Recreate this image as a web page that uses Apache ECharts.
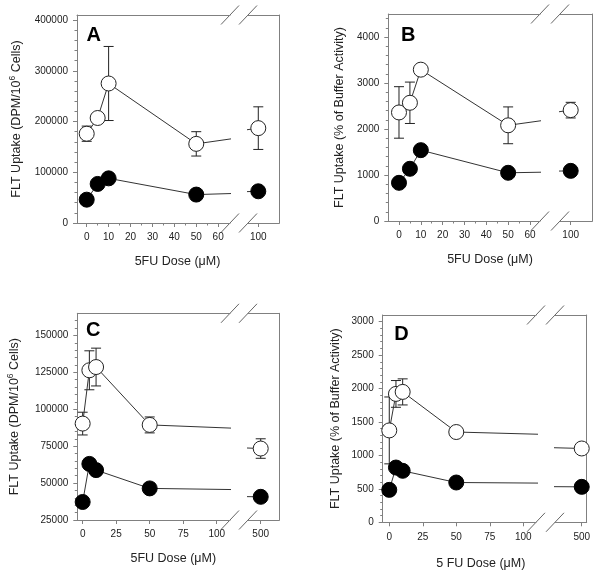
<!DOCTYPE html>
<html><head><meta charset="utf-8">
<script src="https://cdn.jsdelivr.net/npm/echarts@6/dist/echarts.min.js"></script>
<style>html,body{margin:0;padding:0;background:#fff}#c{width:600px;height:574px}</style>
</head><body><div id="c"></div>
<script>
// ---------------- DATA ----------------
// Panel A
const doseA = [0, 5, 10, 50, 100];
const openA = [176000, 207000, 275000, 156000, 187000];
const openAErr = [15000, 0, 73000, 24000, 42000];
const filledA = [46000, 77000, 88000, 56000, 62500];
const xMajorA = [0, 10, 20, 30, 40, 50, 60];
const xMinorA = [5, 15, 25, 35, 45, 55];
const xBreakTickA = [100];
const yMajorA = [0, 100000, 200000, 300000, 400000];
const yMinorA = [20000, 40000, 60000, 80000, 120000, 140000, 160000, 180000, 220000, 240000, 260000, 280000, 320000, 340000, 360000, 380000];

// Panel B
const doseB = [0, 5, 10, 50, 100];
const openB = [2360, 2570, 3290, 2080, 2410];
const openBErr = [560, 450, 0, 400, 170];
const filledB = [830, 1135, 1540, 1048, 1090];
const xMajorB = [0, 10, 20, 30, 40, 50, 60];
const xMinorB = [5, 15, 25, 35, 45, 55];
const xBreakTickB = [100];
const yMajorB = [0, 1000, 2000, 3000, 4000];
const yMinorB = [200, 400, 600, 800, 1200, 1400, 1600, 1800, 2200, 2400, 2600, 2800, 3200, 3400, 3600, 3800, 4200, 4400];

// Panel C
const doseC = [0, 5, 10, 50, 500];
const openC = [90300, 126400, 128600, 89400, 73400];
const openCErr = [7700, 13200, 12800, 5400, 6600];
const filledC = [37200, 63000, 58800, 46400, 40700];
const xMajorC = [0, 25, 50, 75, 100];
const xMinorC = [];
const xBreakTickC = [500];
const yMajorC = [25000, 50000, 75000, 100000, 125000, 150000];
const yMinorC = [30000, 35000, 40000, 45000, 55000, 60000, 65000, 70000, 80000, 85000, 90000, 95000, 105000, 110000, 115000, 120000, 130000, 135000, 140000, 145000, 155000, 160000];

// Panel D
const doseD = [0, 5, 10, 50, 500];
const openD = [1374, 1920, 1950, 1350, 1104];
const openDErr = [500, 200, 195, 0, 0];
const filledD = [485, 819, 770, 595, 530];
const xMajorD = [0, 25, 50, 75, 100];
const xMinorD = [];
const xBreakTickD = [500];
const yMajorD = [0, 500, 1000, 1500, 2000, 2500, 3000];
const yMinorD = [100, 200, 300, 400, 600, 700, 800, 900, 1100, 1200, 1300, 1400, 1600, 1700, 1800, 1900, 2100, 2200, 2300, 2400, 2600, 2700, 2800, 2900];

// ---------------- LAYOUT ----------------
const FONT = "'Liberation Sans', Arial, Helvetica, sans-serif";
const AXIS_C = '#808080';
const TEXT_C = '#222';

const panels = [
  {letter: 'A', dose: doseA, open: openA, openErr: openAErr, filled: filledA,
   xMajor: xMajorA, xMinor: xMinorA, xBreak: xBreakTickA, yMajor: yMajorA, yMinor: yMinorA,
   left: 77, top: 15, bottom: 223, b1: 230, b2: 248, right: 279.3,
   xL: [-4.43, 65.4], xR: [95.3, 109.6], y: [0, 410000],
   yName: '{a|FLT Uptake (DPM/10}{s|6}{a| Cells)}', nameGap: 52,
   xTitle: '5FU Dose (μM)', xTitlePos: [177.5, 261.5], letterPos: [86.5, 35.5]},
  {letter: 'B', dose: doseB, open: openB, openErr: openBErr, filled: filledB,
   xMajor: xMajorB, xMinor: xMinorB, xBreak: xBreakTickB, yMajor: yMajorB, yMinor: yMinorB,
   left: 388.3, top: 14, bottom: 221, b1: 540, b2: 560, right: 592.3,
   xL: [-4.9, 64.6], xR: [95.1, 109.9], y: [0, 4500],
   yName: '{a|FLT Uptake (% of Buffer Activity)}', nameGap: 40,
   xTitle: '5FU Dose (μM)', xTitlePos: [490, 260], letterPos: [401, 35.5]},
  {letter: 'C', dose: doseC, open: openC, openErr: openCErr, filled: filledC,
   xMajor: xMajorC, xMinor: xMinorC, xBreak: xBreakTickC, yMajor: yMajorC, yMinor: yMinorC,
   left: 77.3, top: 313.3, bottom: 520, b1: 230, b2: 248, right: 279.3,
   xL: [-4, 109.9], xR: [490.5, 513.9], y: [25000, 165000],
   yName: '{a|FLT Uptake (DPM/10}{s|6}{a| Cells)}', nameGap: 54,
   xTitle: '5FU Dose (μM)', xTitlePos: [173.3, 558.3], letterPos: [86, 330]},
  {letter: 'D', dose: doseD, open: openD, openErr: openDErr, filled: filledD,
   xMajor: xMajorD, xMinor: xMinorD, xBreak: xBreakTickD, yMajor: yMajorD, yMinor: yMinorD,
   left: 382.7, top: 315, bottom: 522.3, b1: 536, b2: 555, right: 586.7,
   xL: [-4.9, 109.5], xR: [480.1, 503.7], y: [0, 3100],
   yName: '{a|FLT Uptake (% of Buffer Activity)}', nameGap: 39,
   xTitle: '5 FU Dose (μM)', xTitlePos: [480.8, 563.3], letterPos: [394.3, 334.5]}
];

const grids = [], xAxes = [], yAxes = [], series = [], graphics = [];
const labelStyle = {fontSize: 10, color: TEXT_C, fontFamily: FONT};
const fmt = v => String(Math.round(v));

function errRender(params, api) {
  const x = api.value(0), y = api.value(1), e = api.value(2);
  if (!e) return null;
  const cs = params.coordSys;
  const top = api.coord([x, y + e]);
  const bot = api.coord([x, y - e]);
  if (top[0] < cs.x - 0.5 || top[0] > cs.x + cs.width + 0.5) return null;
  const w = 5;
  const st = {stroke: '#222', lineWidth: 1};
  return {type: 'group', children: [
    {type: 'line', shape: {x1: top[0], y1: top[1], x2: bot[0], y2: bot[1]}, style: st},
    {type: 'line', shape: {x1: top[0] - w, y1: top[1], x2: top[0] + w, y2: top[1]}, style: st},
    {type: 'line', shape: {x1: bot[0] - w, y1: bot[1], x2: bot[0] + w, y2: bot[1]}, style: st}
  ]};
}

function baseAxis(gridIndex, position, min, max) {
  return {type: 'value', gridIndex, position, min, max,
    axisLine: {show: false, onZero: false, lineStyle: {color: AXIS_C, width: 1}},
    axisTick: {show: false}, axisLabel: {show: false}, splitLine: {show: false},
    minorTick: {show: false}, minorSplitLine: {show: false}};
}

panels.forEach(p => {
  const h = p.bottom - p.top;
  const gL = grids.length;
  grids.push({left: p.left, top: p.top, width: p.b1 - p.left, height: h});
  grids.push({left: p.b2, top: p.top, width: p.right - p.b2, height: h});
  const gR = gL + 1;

  // x axes, left grid
  const xiL = xAxes.length;
  const a1 = baseAxis(gL, 'bottom', p.xL[0], p.xL[1]);
  a1.axisLine.show = true;
  a1.axisTick = {show: true, length: 4, customValues: p.xMajor, lineStyle: {color: AXIS_C}};
  a1.axisLabel = Object.assign({show: true, customValues: p.xMajor, margin: 9.5, formatter: fmt}, labelStyle);
  xAxes.push(a1);
  const a2 = baseAxis(gL, 'bottom', p.xL[0], p.xL[1]);
  if (p.xMinor.length) a2.axisTick = {show: true, length: 2.5, customValues: p.xMinor, lineStyle: {color: AXIS_C}};
  xAxes.push(a2);
  const a3 = baseAxis(gL, 'top', p.xL[0], p.xL[1]);
  a3.axisLine.show = true;
  xAxes.push(a3);
  // x axes, right grid
  const xiR = xAxes.length;
  const a4 = baseAxis(gR, 'bottom', p.xR[0], p.xR[1]);
  a4.axisLine.show = true;
  a4.axisTick = {show: true, length: 4, customValues: p.xBreak, lineStyle: {color: AXIS_C}};
  a4.axisLabel = Object.assign({show: true, customValues: p.xBreak, margin: 9.5, formatter: fmt}, labelStyle);
  xAxes.push(a4);
  const a5 = baseAxis(gR, 'top', p.xR[0], p.xR[1]);
  a5.axisLine.show = true;
  xAxes.push(a5);

  // y axes
  const yiL = yAxes.length;
  const y1 = baseAxis(gL, 'left', p.y[0], p.y[1]);
  y1.axisLine.show = true;
  y1.axisTick = {show: true, length: 4, customValues: p.yMajor, lineStyle: {color: AXIS_C}};
  y1.axisLabel = Object.assign({show: true, customValues: p.yMajor, margin: 9, formatter: fmt}, labelStyle);
  y1.name = p.yName;
  y1.nameLocation = 'middle';
  y1.nameGap = p.nameGap;
  y1.nameTextStyle = {fontSize: 12.5, color: TEXT_C, fontFamily: FONT,
    rich: {a: {fontSize: 12.5, lineHeight: 17, color: TEXT_C, fontFamily: FONT},
           s: {fontSize: 8.5, verticalAlign: 'top', color: TEXT_C, fontFamily: FONT}}};
  yAxes.push(y1);
  const y2 = baseAxis(gL, 'left', p.y[0], p.y[1]);
  y2.axisTick = {show: true, length: 2.5, customValues: p.yMinor, lineStyle: {color: AXIS_C}};
  yAxes.push(y2);
  const yiR = yAxes.length;
  const y3 = baseAxis(gR, 'right', p.y[0], p.y[1]);
  y3.axisLine.show = true;
  yAxes.push(y3);

  const openPts = p.dose.map((d, i) => [d, p.open[i]]);
  const filledPts = p.dose.map((d, i) => [d, p.filled[i]]);
  const errPts = p.dose.map((d, i) => [d, p.open[i], p.openErr[i]]);

  [[xiL, yiL], [xiR, yiR]].forEach(([xi, yi]) => {
    series.push({type: 'custom', xAxisIndex: xi, yAxisIndex: yi, data: errPts,
      renderItem: errRender, z: 1, silent: true, animation: false});
    series.push({type: 'line', xAxisIndex: xi, yAxisIndex: yi, data: filledPts,
      symbol: 'circle', symbolSize: 15, showSymbol: true, showAllSymbol: true, clip: true,
      lineStyle: {color: '#333', width: 1}, itemStyle: {color: '#000', borderColor: '#000', borderWidth: 1},
      z: 3, silent: true, animation: false});
    series.push({type: 'line', xAxisIndex: xi, yAxisIndex: yi, data: openPts,
      symbol: 'circle', symbolSize: 15, showSymbol: true, showAllSymbol: true, clip: true,
      lineStyle: {color: '#333', width: 1}, itemStyle: {color: '#fff', borderColor: '#222', borderWidth: 1},
      z: 4, silent: true, animation: false});
  });

  // break marks
  [p.b1, p.b2].forEach(cx => {
    [p.top, p.bottom].forEach(cy => {
      graphics.push({type: 'line', shape: {x1: cx - 9, y1: cy + 9.5, x2: cx + 9, y2: cy - 9.5},
        style: {stroke: '#666', lineWidth: 1}, silent: true});
    });
  });
  graphics.push({type: 'text', x: p.xTitlePos[0], y: p.xTitlePos[1], silent: true,
    style: {text: p.xTitle, fontSize: 12.5, fontFamily: FONT, fill: TEXT_C, align: 'center', verticalAlign: 'middle'}});
  graphics.push({type: 'text', x: p.letterPos[0], y: p.letterPos[1], silent: true,
    style: {text: p.letter, fontSize: 20, fontWeight: 'bold', fontFamily: FONT, fill: '#000', align: 'left', verticalAlign: 'middle'}});
});

const chart = echarts.init(document.getElementById('c'), null, {renderer: 'canvas'});
chart.setOption({
  animation: false,
  backgroundColor: '#fff',
  grid: grids,
  xAxis: xAxes,
  yAxis: yAxes,
  series: series,
  graphic: graphics
});
</script>
</body></html>
